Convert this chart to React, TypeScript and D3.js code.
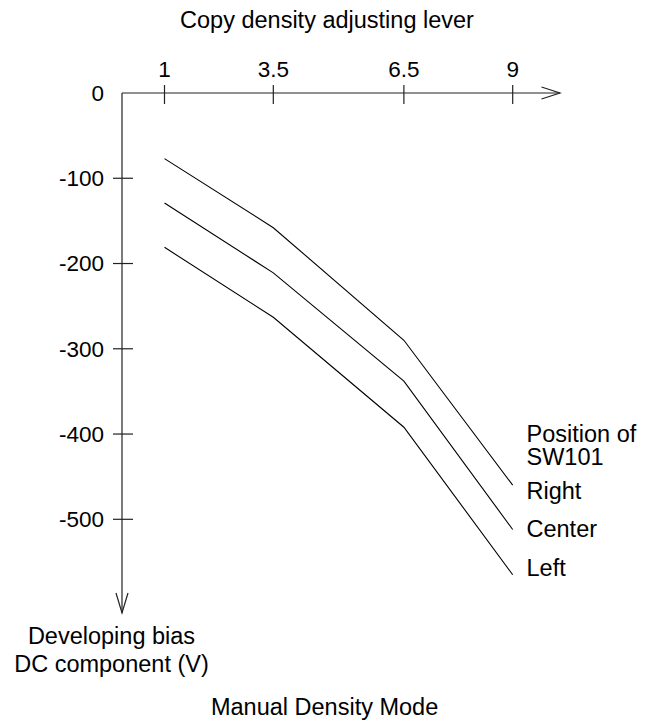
import React from "react";
import * as d3 from "d3";

const leverTicks = [1, 3.5, 6.5, 9];
const leverLabels = ["1", "3.5", "6.5", "9"];
const biasTicks = [0, -100, -200, -300, -400, -500];
const seriesNames = ["Right", "Center", "Left"];
const rightValues = [-77, -158, -290, -460];
const centerValues = [-129, -211, -338, -512];
const leftValues = [-181, -263, -392, -565];

const W = 658;
const H = 722;
const FONT = "'Liberation Sans', Arial, Helvetica, sans-serif";

export default function App() {
  const x = d3.scaleLinear().domain([1, 9]).range([164.5, 512.7]);
  const y = d3.scaleLinear().domain([0, -500]).range([93, 519.3]);
  const x0 = 122;
  const y0 = y(0);
  const line = d3
    .line<[number, number]>()
    .x((d) => x(d[0]))
    .y((d) => y(d[1]));
  const series = [rightValues, centerValues, leftValues];
  const labelY = [499, 537, 575.5];
  const axisColor = "#222";

  return (
    <svg
      width={W}
      height={H}
      style={{ position: "absolute", left: 0, top: 0, background: "#fff" }}
      fontFamily={FONT}
    >
      <rect width={W} height={H} fill="#fff" />
      {/* x axis */}
      <line x1={x0} y1={y0} x2={560} y2={y0} stroke={axisColor} strokeWidth={1.2} />
      <polyline
        points={`541.5,${y0 - 6} 560,${y0} 541.5,${y0 + 6}`}
        fill="none"
        stroke={axisColor}
        strokeWidth={1.2}
      />
      {leverTicks.map((t, i) => (
        <g key={"xt" + i}>
          <line x1={x(t)} x2={x(t)} y1={y0 - 8} y2={y0 + 11} stroke={axisColor} strokeWidth={1.2} />
          <text x={x(t)} y={77} textAnchor="middle" fontSize={22.5}>
            {leverLabels[i]}
          </text>
        </g>
      ))}
      {/* y axis */}
      <line x1={x0} y1={y0} x2={x0} y2={613} stroke={axisColor} strokeWidth={1.2} />
      <polyline
        points={`${x0 - 6},593 ${x0},613 ${x0 + 6},593`}
        fill="none"
        stroke={axisColor}
        strokeWidth={1.2}
      />
      {biasTicks.map((t, i) => (
        <g key={"yt" + i}>
          {t !== 0 && (
            <line x1={x0 - 9} x2={x0 + 11} y1={y(t)} y2={y(t)} stroke={axisColor} strokeWidth={1.2} />
          )}
          <text x={104} y={y(t) + 7.8} textAnchor="end" fontSize={22.5}>
            {String(t)}
          </text>
        </g>
      ))}
      {/* data lines */}
      {series.map((vals, i) => (
        <path
          key={"s" + i}
          d={line(leverTicks.map((t, j) => [t, vals[j]] as [number, number])) || ""}
          fill="none"
          stroke="#000"
          strokeWidth={1.1}
        />
      ))}
      {/* legend labels */}
      <text x={526.5} y={441.5} fontSize={23.5}>Position of</text>
      <text x={526.5} y={464.5} fontSize={23.5}>SW101</text>
      {seriesNames.map((n, i) => (
        <text key={"l" + i} x={526.5} y={labelY[i]} fontSize={23.5}>
          {n}
        </text>
      ))}
      {/* titles */}
      <text x={327} y={28} textAnchor="middle" fontSize={23.5}>
        Copy density adjusting lever
      </text>
      <text x={111.5} y={643.5} textAnchor="middle" fontSize={23.5}>
        Developing bias
      </text>
      <text x={111.5} y={671.5} textAnchor="middle" fontSize={23.5}>
        DC component (V)
      </text>
      <text x={324.6} y={715} textAnchor="middle" fontSize={23.5}>
        Manual Density Mode
      </text>
    </svg>
  );
}
